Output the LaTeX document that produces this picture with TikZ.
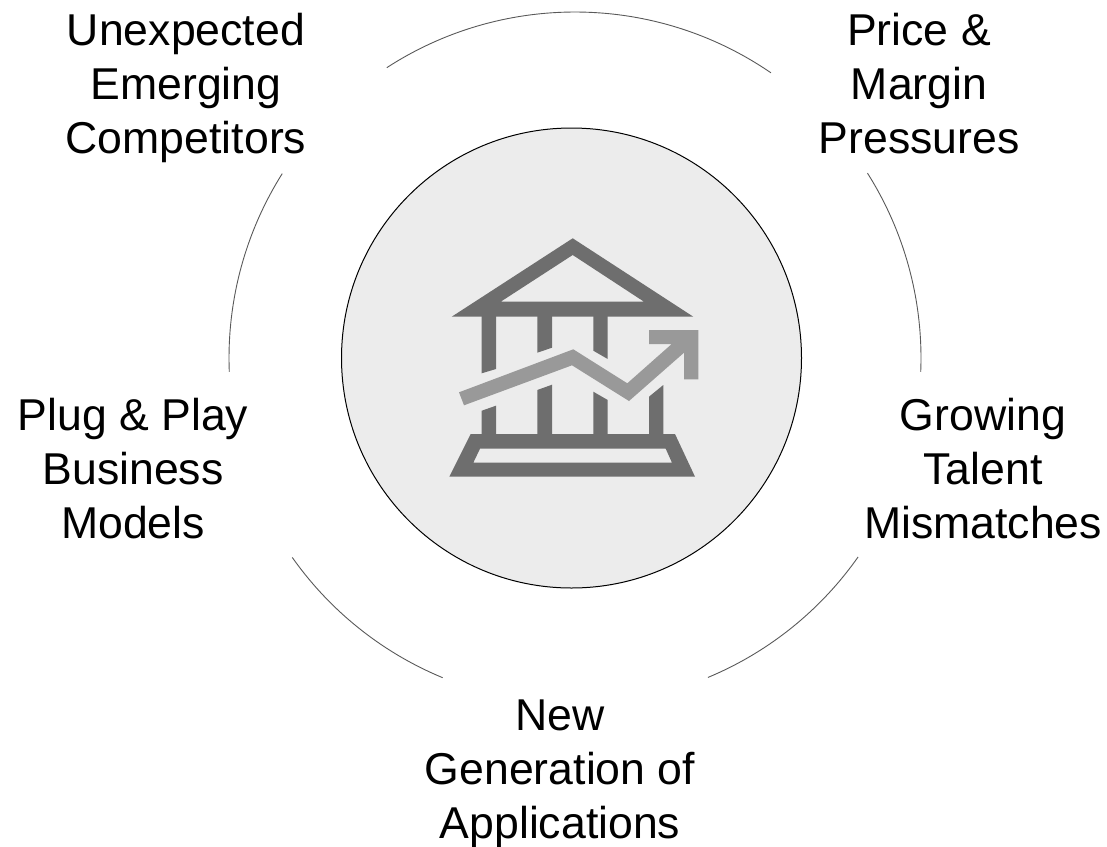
\documentclass[tikz,border=0pt]{standalone}
\usepackage{fontspec}
\setmainfont{Liberation Sans}
\definecolor{hub}{HTML}{ECECEC}
\definecolor{bank}{HTML}{6E6E6E}
\definecolor{trend}{HTML}{999999}
\begin{document}
\begin{tikzpicture}[x=1pt,y=-1pt,
    txt/.style={align=center,anchor=base,inner sep=0pt,font=\fontsize{44.6}{54}\selectfont},
    ring/.style={draw=black!65,line width=0.9pt}]
  \useasboundingbox (0,0) rectangle (1107,846);
  \coordinate (m) at (575,358);
  \node [circle,draw,fill=hub,line width=1pt,minimum size=460pt,inner sep=0pt] (z) at (571.5,358) {};
  \draw [ring] ([shift={(122.95:346pt)}]m) arc[start angle=122.95,end angle=55.5,radius=346pt];
  \draw [ring] ([shift={(32.3:346pt)}]m) arc[start angle=32.3,end angle=-2.3,radius=346pt];
  \draw [ring] ([shift={(-35.1:346pt)}]m) arc[start angle=-35.1,end angle=-67.4,radius=346pt];
  \draw [ring] ([shift={(247.5:346pt)}]m) arc[start angle=247.5,end angle=215.2,radius=346pt];
  \draw [ring] ([shift={(182.3:346pt)}]m) arc[start angle=182.3,end angle=147.8,radius=346pt];
  \fill [bank,even odd rule] (572.7,238.3) -- (693.3,316.7) -- (451.7,316.7) -- cycle
    (572.7,255) -- (644,301.7) -- (500.7,301.7) -- cycle;
  \fill [bank,even odd rule] (470.7,434) -- (675,434) -- (695,476.7) -- (449.3,476.7) -- cycle
    (480,448.7) -- (665.7,448.7) -- (672,462.7) -- (473.3,462.7) -- cycle;
  \fill [bank] (481.7,316) -- (496,316) -- (496,369) -- (481.7,373.3) -- cycle;
  \fill [bank] (481.7,410.7) -- (496,405.7) -- (496,435) -- (481.7,435) -- cycle;
  \fill [bank] (537.3,316) -- (552,316) -- (552,347.7) -- (537.3,352.7) -- cycle;
  \fill [bank] (537.3,390) -- (552,384.7) -- (552,435) -- (537.3,435) -- cycle;
  \fill [bank] (593.3,316) -- (607.7,316) -- (607.7,359) -- (593.3,350.7) -- cycle;
  \fill [bank] (593.3,391.7) -- (607.7,400) -- (607.7,435) -- (593.3,435) -- cycle;
  \fill [bank] (649,396.7) -- (663.3,385) -- (663.3,435) -- (649,435) -- cycle;
  \fill [trend] (459,392.3) -- (573.3,349.3) -- (627.3,383.3) -- (671.7,344) -- (649,344) -- (649,330)
    -- (698.3,330) -- (698.3,379.3) -- (684,379.3) -- (684,352.7) -- (629,401) -- (572,365.3) -- (464,405.3) -- cycle;
  \node [txt] (a) at (186,153) {Unexpected\\Emerging\\Competitors};
  \node [txt] (b) at (919,153) {Price \&\\Margin\\Pressures};
  \node [txt] (c) at (983,538.5) {Growing\\Talent\\Mismatches};
  \node [txt] (d) at (560,838) {New\\Generation of\\Applications};
  \node [txt] (e) at (133,538.5) {Plug \& Play\\Business\\Models};
\end{tikzpicture}
\end{document}
